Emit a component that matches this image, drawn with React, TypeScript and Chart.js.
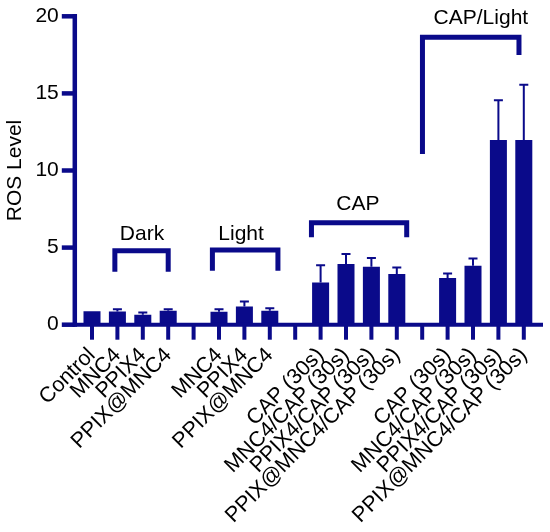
import React, { useRef, useEffect } from 'react';
import { Chart, registerables, type ChartConfiguration, type Plugin } from 'chart.js';

Chart.register(...registerables);

const NAVY = '#0a0a8a';
const FONT = '"Liberation Sans", Arial, sans-serif';

// categories (empty strings are the gaps between groups)
const labels = [
  'Control', 'MNC4', 'PPIX4', 'PPIX@MNC4', '',
  'MNC4', 'PPIX4', 'PPIX@MNC4', '',
  'CAP (30s)', 'MNC4/CAP (30s)', 'PPIX4/CAP (30s)', 'PPIX@MNC4/CAP (30s)', '',
  'CAP (30s)', 'MNC4/CAP (30s)', 'PPIX4/CAP (30s)', 'PPIX@MNC4/CAP (30s)',
];

// mean ROS level
const rosMean = [
  0.87, 0.86, 0.65, 0.9, null,
  0.84, 1.18, 0.9, null,
  2.74, 3.93, 3.76, 3.29, null,
  3.03, 3.83, 11.98, 11.98,
];

// upper error (SD)
const rosErr = [
  0, 0.15, 0.14, 0.11, null,
  0.17, 0.32, 0.17, null,
  1.12, 0.65, 0.56, 0.42, null,
  0.29, 0.46, 2.58, 3.58,
];

const yTicks = [0, 5, 10, 15, 20];

// group brackets: x in category index, y in ROS units
const bracketNames = ['Dark', 'Light', 'CAP', 'CAP/Light'];
const bracketX = [[0.9, 3.0], [4.74, 7.32], [8.64, 12.39], [13.01, 16.81]];
const bracketTop = [4.8, 4.84, 6.61, 18.64];
const bracketFeet = [[3.44, 3.44], [3.5, 3.5], [5.67, 5.67], [11.07, 17.49]];
const bracketLabelX = [1.97, 5.87, 10.47, 15.31];
const bracketLabelY = [5.88, 5.88, 7.83, 19.87];

const decorations: Plugin<'bar'> = {
  id: 'decorations',
  afterDatasetsDraw(chart) {
    const { ctx, chartArea } = chart;
    const x = chart.scales.x;
    const y = chart.scales.y;
    ctx.save();
    ctx.strokeStyle = NAVY;
    ctx.lineCap = 'butt';

    // error bars
    ctx.lineWidth = 2;
    rosMean.forEach((m, i) => {
      const e = rosErr[i];
      if (m == null || !e) return;
      const px = x.getPixelForValue(i);
      const y0 = y.getPixelForValue(m);
      const y1 = y.getPixelForValue(m + e);
      ctx.beginPath();
      ctx.moveTo(px, y0);
      ctx.lineTo(px, y1);
      ctx.moveTo(px - 4.5, y1);
      ctx.lineTo(px + 4.5, y1);
      ctx.stroke();
    });

    // axes
    const axX = chartArea.left - 4.5;
    const zero = chartArea.bottom;
    ctx.lineWidth = 4.5;
    ctx.beginPath();
    ctx.moveTo(axX, chartArea.top - 2.3);
    ctx.lineTo(axX, zero + 2);
    ctx.stroke();
    yTicks.forEach((v) => {
      const py = y.getPixelForValue(v);
      ctx.beginPath();
      ctx.moveTo(axX - 13, py);
      ctx.lineTo(axX, py);
      ctx.stroke();
    });
    ctx.lineWidth = 4;
    ctx.beginPath();
    ctx.moveTo(axX - 2, zero);
    ctx.lineTo(chartArea.right + 6.5, zero);
    ctx.stroke();
    labels.forEach((_, i) => {
      const px = x.getPixelForValue(i);
      ctx.beginPath();
      ctx.moveTo(px, zero);
      ctx.lineTo(px, zero + 15);
      ctx.stroke();
    });

    // brackets
    ctx.lineWidth = 5;
    ctx.lineJoin = 'miter';
    bracketNames.forEach((name, i) => {
      const xl = x.getPixelForValue(bracketX[i][0]);
      const xr = x.getPixelForValue(bracketX[i][1]);
      const yt = y.getPixelForValue(bracketTop[i]);
      ctx.beginPath();
      ctx.moveTo(xl, y.getPixelForValue(bracketFeet[i][0]));
      ctx.lineTo(xl, yt);
      ctx.lineTo(xr, yt);
      ctx.lineTo(xr, y.getPixelForValue(bracketFeet[i][1]));
      ctx.stroke();
    });

    ctx.fillStyle = '#000';
    ctx.font = `21px ${FONT}`;
    ctx.textAlign = 'center';
    ctx.textBaseline = 'middle';
    bracketNames.forEach((name, i) => {
      ctx.fillText(name, x.getPixelForValue(bracketLabelX[i]), y.getPixelForValue(bracketLabelY[i]));
    });

    // y title
    ctx.translate(15.5, (chartArea.top + chartArea.bottom) / 2);
    ctx.rotate(-Math.PI / 2);
    ctx.fillText('ROS Level', 0, 0);
    ctx.restore();
  },
};

const RosChart: React.FC = () => {
  const chartRef = useRef<HTMLCanvasElement>(null);
  const chartInstance = useRef<Chart | null>(null);

  useEffect(() => {
    if (!chartRef.current) return;
    if (chartInstance.current) {
      chartInstance.current.destroy();
      chartInstance.current = null;
    }

    const config: ChartConfiguration<'bar'> = {
      type: 'bar',
      data: {
        labels,
        datasets: [
          {
            data: rosMean as (number | null)[],
            backgroundColor: NAVY,
            borderWidth: 0,
            barPercentage: 0.67,
            categoryPercentage: 1,
          },
        ],
      },
      options: {
        responsive: true,
        maintainAspectRatio: false,
        animation: false,
        layout: { padding: { top: 16.3, right: 13.5, left: 0, bottom: 0 } },
        plugins: {
          legend: { display: false },
          tooltip: { enabled: false },
        },
        scales: {
          x: {
            type: 'category',
            offset: true,
            grid: { display: false, drawTicks: false },
            border: { display: false },
            ticks: {
              autoSkip: false,
              maxRotation: 45,
              minRotation: 45,
              padding: 18,
              color: '#000',
              font: { size: 21.5, family: FONT },
            },
            afterFit: (scale) => {
              scale.height = 532 - 324.7;
              scale.paddingLeft = 0;
              scale.paddingRight = 0;
            },
          },
          y: {
            min: 0,
            max: 20,
            grid: { display: false, drawTicks: false },
            border: { display: false },
            ticks: {
              stepSize: 5,
              padding: 20.5,
              color: '#000',
              font: { size: 21, family: FONT },
            },
            afterFit: (scale) => {
              scale.width = 79.3;
              scale.paddingTop = 0;
              scale.paddingBottom = 0;
            },
          },
        },
      },
      plugins: [decorations],
    };

    chartInstance.current = new Chart(chartRef.current, config);

    return () => {
      if (chartInstance.current) {
        chartInstance.current.destroy();
        chartInstance.current = null;
      }
    };
  }, []);

  return <canvas ref={chartRef} />;
};

export default function App() {
  return (
    <div style={{ position: 'fixed', left: 0, top: 0, width: 550, height: 532, background: '#fff' }}>
      <RosChart />
    </div>
  );
}
